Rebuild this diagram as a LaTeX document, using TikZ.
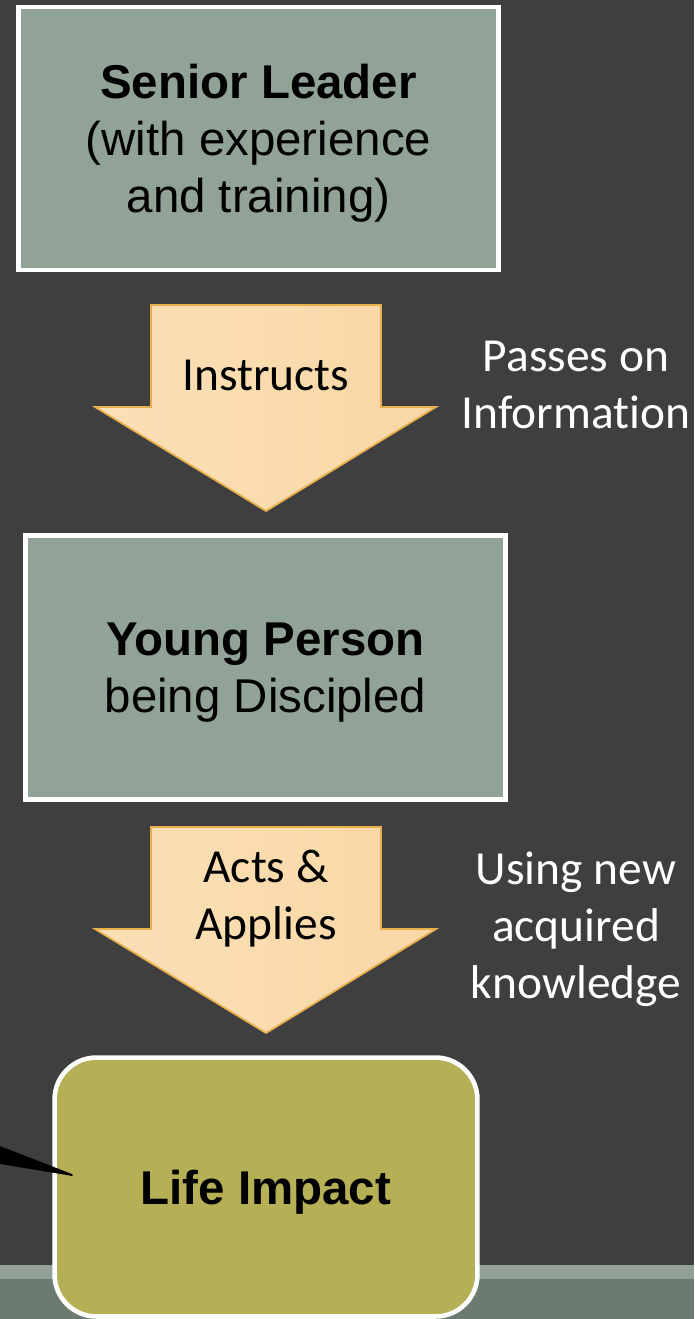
\documentclass[tikz,border=0pt]{standalone}
\usepackage{fontspec}
\setmainfont{Liberation Sans}
\newfontfamily\calibri[Ligatures=NoCommon]{Carlito}
\usetikzlibrary{positioning}

\definecolor{slide}{HTML}{3F3F3F}
\definecolor{sage}{HTML}{91A397}
\definecolor{olive}{HTML}{B5AF55}
\definecolor{peach}{HTML}{F8D7A6}
\definecolor{peachlight}{HTML}{FBE0B6}
\definecolor{amber}{HTML}{E8B04C}
\definecolor{bandlight}{HTML}{92A198}
\definecolor{banddark}{HTML}{6B7B71}

\begin{document}
\begin{tikzpicture}[x=0.02cm, y=-0.02cm,
	box/.style={draw=white, line width=2.6pt, align=center, text depth=-0.08cm},
	flow/.style={draw=amber, line width=1pt, left color=peachlight, right color=peach},
	flowtext/.style={font=\calibri, align=center},
	note/.style={font=\calibri, text=white, align=center}]
	\fontsize{27pt}{32.4pt}\selectfont
	\useasboundingbox (0,0) rectangle (694,1319);
	% slide background
	\fill[slide] (0,0) rectangle (694,1319);
	\fill[bandlight] (0,1265) rectangle (694,1279);
	\fill[banddark] (0,1279) rectangle (694,1319);

	% block arrows
	\foreach \t in {305,827}
		\draw[flow] (151,\t) -- (381,\t) -- (381,\t+102) -- (436,\t+102) -- (266,\t+206)
			-- (95,\t+102) -- (151,\t+102) -- cycle;

	\node[box, fill=sage, minimum width=9.6cm, minimum height=5.26cm] (leader) at (258.5,138.5)
		{\textbf{Senior Leader}\\(with experience\\and training)};
	\node[box, fill=sage, minimum width=9.6cm, minimum height=5.28cm] (young) at (265.5,667.5)
		{\textbf{Young Person}\\being Discipled};
	\node[box, fill=olive, rounded corners=0.84cm, minimum width=8.46cm, minimum height=5.18cm] (impact) at (266,1187)
		{\textbf{Life Impact}};

	\node[flowtext] (instructs) at (266,375.5) {Instructs};
	\node[flowtext] (applies) at (266,899) {Acts \&\\Applies};
	\node[note] (passes) at (576,384.5) {Passes on\\Information};
	\node[note] (using) at (576,929) {Using new\\acquired\\knowledge};

	% pointer into the impact box
	\coordinate (pointer top) at (0,1147);
	\coordinate (pointer bottom) at (0,1163);
	\coordinate (pointer tip) at (72,1175);
	\filldraw[black, line width=1pt, line join=round] (pointer top) -- (pointer tip) -- (pointer bottom) -- cycle;
\end{tikzpicture}
\end{document}
